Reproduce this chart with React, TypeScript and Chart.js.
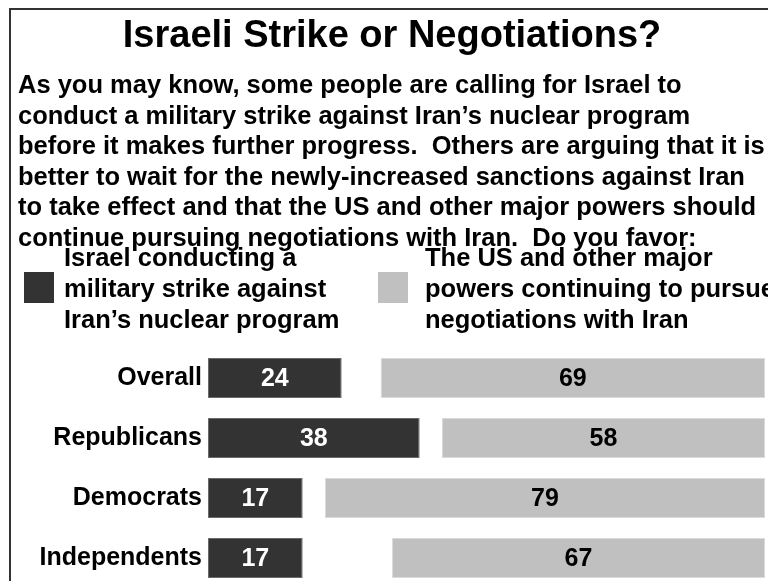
import React, { useEffect, useRef } from "react";
import { Chart, registerables } from "chart.js";

Chart.register(...registerables);

const titleText = "Israeli Strike or Negotiations?";
const questionLines = [
  "As you may know, some people are calling for Israel to",
  "conduct a military strike against Iran\u2019s nuclear program",
  "before it makes further progress.  Others are arguing that it is",
  "better to wait for the newly-increased sanctions against Iran",
  "to take effect and that the US and other major powers should",
  "continue pursuing negotiations with Iran.  Do you favor:",
];
const strikeLegendLines = [
  "Israel conducting a",
  "military strike against",
  "Iran\u2019s nuclear program",
];
const negotiationLegendLines = [
  "The US and other major",
  "powers continuing to pursue",
  "negotiations with Iran",
];
const categories = ["Overall", "Republicans", "Democrats", "Independents"];
const strikeValues = [24, 38, 17, 17];
const negotiationValues = [69, 58, 79, 67];

const FONT = "'Liberation Sans', Arial, Helvetica, sans-serif";
const DARK = "#333333";
const LIGHT = "#c0c0c0";

const headerPlugin = {
  id: "header",
  afterDraw(chart: any) {
    const ctx = chart.ctx;
    ctx.save();
    // frame
    ctx.strokeStyle = "#333333";
    ctx.lineWidth = 2;
    ctx.beginPath();
    ctx.moveTo(10, 700);
    ctx.lineTo(10, 9);
    ctx.lineTo(800, 9);
    ctx.stroke();

    ctx.fillStyle = "#000";
    ctx.textBaseline = "alphabetic";
    ctx.textAlign = "center";
    ctx.font = `bold 38px ${FONT}`;
    ctx.fillText(titleText, 392, 47);

    ctx.textAlign = "left";
    ctx.font = `bold 25.5px ${FONT}`;
    questionLines.forEach((l, i) => ctx.fillText(l, 18, 93 + i * 30.6));

    // legend
    ctx.fillStyle = DARK;
    ctx.fillRect(24, 272, 30, 31);
    ctx.fillStyle = LIGHT;
    ctx.fillRect(378, 272, 30, 31);
    ctx.fillStyle = "#000";
    strikeLegendLines.forEach((l, i) => ctx.fillText(l, 64, 266 + i * 31));
    negotiationLegendLines.forEach((l, i) => ctx.fillText(l, 425, 266 + i * 31));
    ctx.restore();
  },
};

const valueLabelPlugin = {
  id: "valueLabels",
  afterDatasetsDraw(chart: any) {
    const ctx = chart.ctx;
    ctx.save();
    ctx.textAlign = "center";
    ctx.textBaseline = "middle";
    ctx.font = `bold 25px ${FONT}`;
    [0, 2].forEach((di) => {
      const meta = chart.getDatasetMeta(di);
      const ds = chart.data.datasets[di];
      meta.data.forEach((el: any, i: number) => {
        const cx = (el.x + el.base) / 2;
        ctx.fillStyle = di === 0 ? "#ffffff" : "#000000";
        ctx.fillText(String(ds.data[i]), cx, el.y + 1);
      });
    });
    ctx.restore();
  },
};

export default function App() {
  const ref = useRef<HTMLCanvasElement>(null);
  useEffect(() => {
    if (!ref.current) return;
    const gapValues = strikeValues.map((s, i) => 100 - s - negotiationValues[i]);
    const chart = new Chart(ref.current, {
      type: "bar",
      data: {
        labels: categories,
        datasets: [
          {
            label: strikeLegendLines.join(" "),
            data: strikeValues,
            backgroundColor: DARK,
            borderColor: "#6a6a6a",
            borderWidth: 1,
            borderSkipped: false,
            categoryPercentage: 1,
            barPercentage: 0.667,
          },
          {
            label: "gap",
            data: gapValues,
            backgroundColor: "rgba(0,0,0,0)",
            borderWidth: 0,
            categoryPercentage: 1,
            barPercentage: 0.667,
          },
          {
            label: negotiationLegendLines.join(" "),
            data: negotiationValues,
            backgroundColor: LIGHT,
            borderColor: "#dadada",
            borderWidth: 1,
            borderSkipped: false,
            categoryPercentage: 1,
            barPercentage: 0.667,
          },
        ],
      },
      options: {
        indexAxis: "y",
        animation: false,
        responsive: false,
        maintainAspectRatio: false,
        layout: { padding: { top: 348, right: 3, bottom: 12, left: 0 } },
        scales: {
          x: { stacked: true, min: 0, max: 100, display: false },
          y: {
            stacked: true,
            grid: { display: false, drawTicks: false },
            border: { display: false },
            ticks: {
              color: "#000",
              padding: 6,
              font: { family: FONT, size: 25, weight: "bold" },
            },
            afterFit: (s: any) => {
              s.width = 208;
              s.paddingTop = 0;
              s.paddingBottom = 0;
            },
          },
        },
        plugins: {
          legend: { display: false },
          tooltip: { enabled: false },
          title: { display: false },
        },
      } as any,
      plugins: [headerPlugin, valueLabelPlugin],
    });
    return () => chart.destroy();
  }, []);
  return (
    <div
      style={{
        position: "fixed",
        left: 0,
        top: 0,
        width: 768,
        height: 581,
        overflow: "hidden",
        background: "#fff",
      }}
    >
      <canvas ref={ref} width={768} height={600} style={{ display: "block" }} />
    </div>
  );
}
